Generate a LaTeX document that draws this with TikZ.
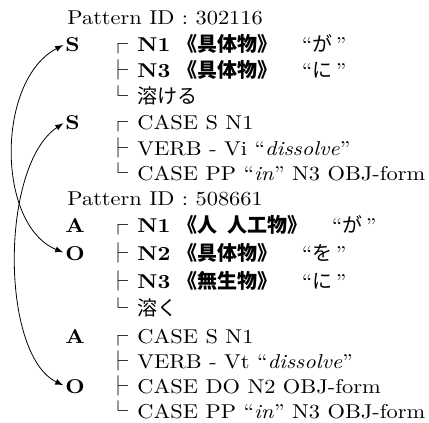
\documentclass[tikz,border=0pt]{standalone}
\usepackage{fontspec}
\setmainfont{lmroman10}[Extension=.otf, UprightFont=*-regular, BoldFont=*-bold,
  ItalicFont=*-italic, BoldItalicFont=*-bolditalic, FakeStretch=1.12]
\newfontfamily\jp{Noto Sans CJK JP}
\newcommand{\jb}[1]{{\jp\bfseries #1}}
\begin{document}
\begin{tikzpicture}[x=0.5pt, y=-0.5pt, >=latex]

% --- Styles ---
\tikzset{
    pid/.style={anchor=base west, inner sep=0pt},
    role/.style={anchor=base west, inner sep=0pt, font=\bfseries},
    tick/.style={anchor=base, inner sep=0pt, font=\jp},
    entry/.style={anchor=base west, inner sep=0pt},
    link/.style={<->, thin, shorten >=1pt, shorten <=1pt}
}

    \useasboundingbox (0,0) rectangle (429,423);

    % Pattern 302116
    \node[pid] (p1) at (67, 25) {Pattern ID : 302116};
    \node[role] (s1) at (65, 51) {S};
    \node[tick] (t2) at (118, 51) {┌};
    \node[entry] (e2) at (137, 51) {\textbf{N1} \jb{《具体物》}\hspace{12pt}``{\jp が}\,''};
    \node[tick] (t3) at (118, 77) {├};
    \node[entry] (e3) at (137, 77) {\textbf{N3} \jb{《具体物》}\hspace{12pt}``{\jp に}\,''};
    \node[tick] (t4) at (118, 103) {└};
    \node[entry] (e4) at (137, 103) {\jp 溶ける};
    \node[role] (s2) at (65, 129) {S};
    \node[tick] (t5) at (118, 129) {┌};
    \node[entry] (e5) at (137, 129) {CASE S N1};
    \node[tick] (t6) at (118, 155) {├};
    \node[entry] (e6) at (137, 155) {VERB - Vi ``\textit{dissolve}''};
    \node[tick] (t7) at (118, 180) {└};
    \node[entry] (e7) at (137, 180) {CASE PP ``\textit{in}'' N3 OBJ-form};

    % Pattern 508661
    \node[pid] (p2) at (67, 205) {Pattern ID : 508661};
    \node[role] (a1) at (65, 232) {A};
    \node[tick] (t9) at (118, 232) {┌};
    \node[entry] (e9) at (137, 232) {\textbf{N1} \jb{《人\hspace{5pt}人工物》}\hspace{12pt}``{\jp が}\,''};
    \node[role] (o1) at (65, 260) {O};
    \node[tick] (t10) at (118, 260) {├};
    \node[entry] (e10) at (137, 260) {\textbf{N2} \jb{《具体物》}\hspace{12pt}``{\jp を}\,''};
    \node[tick] (t11) at (118, 288) {├};
    \node[entry] (e11) at (137, 288) {\textbf{N3} \jb{《無生物》}\hspace{12pt}``{\jp に}\,''};
    \node[tick] (t12) at (118, 315) {└};
    \node[entry] (e12) at (137, 315) {\jp 溶く};
    \node[role] (a2) at (65, 343) {A};
    \node[tick] (t13) at (118, 343) {┌};
    \node[entry] (e13) at (137, 343) {CASE S N1};
    \node[tick] (t14) at (118, 368) {├};
    \node[entry] (e14) at (137, 368) {VERB - Vt ``\textit{dissolve}''};
    \node[role] (o2) at (65, 393) {O};
    \node[tick] (t15) at (118, 393) {├};
    \node[entry] (e15) at (137, 393) {CASE DO N2 OBJ-form};
    \node[tick] (t16) at (118, 418) {└};
    \node[entry] (e16) at (137, 418) {CASE PP ``\textit{in}'' N3 OBJ-form};

    % Links between the slots
    \draw[link] (s1.west) .. controls (-4, 80) and (-4, 225) .. (o1.west);
    \draw[link] (s2.west) .. controls (0, 165) and (0, 355) .. (o2.west);

\end{tikzpicture}
\end{document}
